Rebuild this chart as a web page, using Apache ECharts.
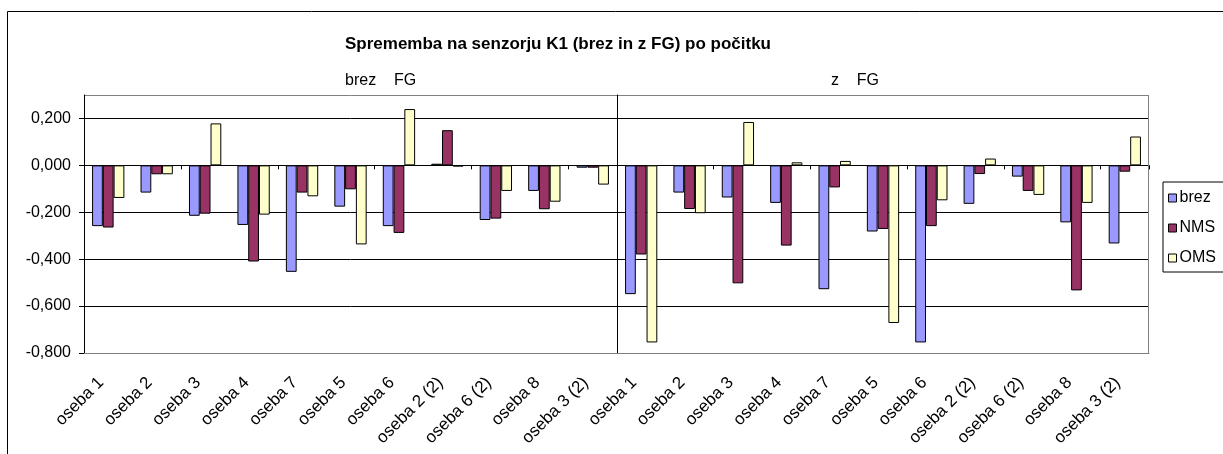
<!DOCTYPE html>
<html>
<head>
<meta charset="utf-8">
<script src="https://cdn.jsdelivr.net/npm/echarts@6/dist/echarts.min.js"></script>
<style>
html,body{margin:0;padding:0;background:#fff;}
#chart{width:1223px;height:454px;}
</style>
</head>
<body>
<div id="chart"></div>
<script>
// ---- data ----
const categories = ['oseba 1','oseba 2','oseba 3','oseba 4','oseba 7','oseba 5','oseba 6','oseba 2 (2)','oseba 6 (2)','oseba 8','oseba 3 (2)'];
const groupLabels = ['brez    FG', 'z    FG'];
const seriesNames = ['brez', 'NMS', 'OMS'];
// group "brez FG"
const brezFG_brez = [-0.259, -0.116, -0.215, -0.254, -0.454, -0.176, -0.259, 0.007, -0.233, -0.109, -0.010];
const brezFG_NMS  = [-0.265, -0.038, -0.206, -0.410, -0.116, -0.102, -0.288, 0.150, -0.227, -0.187, -0.010];
const brezFG_OMS  = [-0.139, -0.038, 0.179, -0.210, -0.132, -0.337, 0.240, -0.005, -0.109, -0.155, -0.082];
// group "z FG"
const zFG_brez = [-0.549, -0.116, -0.137, -0.160, -0.528, -0.282, -0.755, -0.164, -0.048, -0.243, -0.333];
const zFG_NMS  = [-0.380, -0.186, -0.503, -0.342, -0.094, -0.271, -0.259, -0.037, -0.109, -0.533, -0.027];
const zFG_OMS  = [-0.755, -0.204, 0.185, 0.013, 0.019, -0.672, -0.149, 0.029, -0.126, -0.160, 0.123];
const yMin = -0.8, yMax = 0.3, yStep = 0.2;

const colors = ['#9999FF', '#993366', '#FFFFCC'];
const FONT = 'Liberation Sans, Arial, sans-serif';

const chart = echarts.init(document.getElementById('chart'), null, {renderer: 'canvas'});

const gridTop = 95, gridH = 258;
const grids = [
  {left: 84, top: gridTop, width: 533, height: gridH},
  {left: 617, top: gridTop, width: 532, height: gridH}
];

function fmt(v){ return v.toFixed(3).replace('.', ','); }

const xAxes = [], yAxes = [];
[0,1].forEach(function(g){
  // bottom category axis with labels
  xAxes.push({
    type: 'category', gridIndex: g, data: categories, position: 'bottom',
    axisLine: {onZero: false, lineStyle: {color: '#808080', width: 1}},
    axisTick: {show: false},
    axisLabel: {rotate: 45, interval: 0, margin: 20, padding: [0, 10, 0, 0],
      color: '#000', fontFamily: FONT, fontSize: 17}
  });
  // zero line with ticks
  xAxes.push({
    type: 'category', gridIndex: g, data: categories, position: 'top',
    axisLine: {onZero: true, lineStyle: {color: '#000', width: 1}},
    axisTick: {show: true, inside: true, length: 4, lineStyle: {color: '#000'}},
    axisLabel: {show: false}
  });
  yAxes.push({
    type: 'value', gridIndex: g, min: yMin, max: yMax, interval: yStep,
    axisLine: {show: true, lineStyle: {color: '#000', width: 1}},
    axisTick: {show: g === 0, length: 5, lineStyle: {color: '#000'}},
    axisLabel: {show: g === 0, showMaxLabel: false, formatter: fmt, margin: 13,
      color: '#000', fontFamily: FONT, fontSize: 16},
    splitLine: {show: true, lineStyle: {color: ['#808080','#000','#000','#000','#000','#000','#808080'], width: 1}}
  });
});

const groupData = [[brezFG_brez, brezFG_NMS, brezFG_OMS], [zFG_brez, zFG_NMS, zFG_OMS]];
const series = [];
[0,1].forEach(function(g){
  seriesNames.forEach(function(name, i){
    series.push({
      name: name, type: 'bar', xAxisIndex: g * 2, yAxisIndex: g,
      data: groupData[g][i],
      barGap: '0%', barCategoryGap: '33.3%',
      itemStyle: {color: colors[i], borderColor: '#000', borderWidth: 1},
      emphasis: {disabled: true},
      animation: false
    });
  });
});

chart.setOption({
  animation: false,
  grid: grids,
  xAxis: xAxes,
  yAxis: yAxes,
  legend: {
    orient: 'vertical', left: 1163, top: 182,
    data: seriesNames,
    icon: 'rect', itemWidth: 8, itemHeight: 8, itemGap: 14,
    itemStyle: {borderColor: '#000', borderWidth: 1},
    borderColor: '#000', borderWidth: 1, borderRadius: 0,
    padding: [8, 30, 6, 5],
    textStyle: {color: '#000', fontFamily: FONT, fontSize: 16, padding: [0, 0, 0, -2]}
  },
  graphic: [
    {type: 'rect', silent: true, z: -10,
     shape: {x: 7.5, y: 11.5, width: 1400, height: 600},
     style: {fill: 'none', stroke: '#000', lineWidth: 1}},
    {type: 'rect', silent: true, z: 10,
     shape: {x: 1148.5, y: gridTop, width: 0, height: gridH},
     style: {fill: 'none', stroke: '#808080', lineWidth: 1}},
    {type: 'text', left: 345, top: 36,
     style: {text: 'Sprememba na senzorju K1 (brez in z FG) po počitku', fill: '#000',
       font: 'bold 17px ' + FONT}},
    {type: 'text', left: 345, top: 73,
     style: {text: groupLabels[0], fill: '#000', font: '16px ' + FONT}},
    {type: 'text', left: 831, top: 73,
     style: {text: groupLabels[1], fill: '#000', font: '16px ' + FONT}}
  ],
  series: series
});
</script>
</body>
</html>
